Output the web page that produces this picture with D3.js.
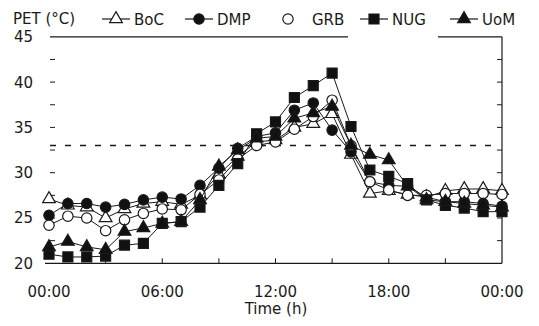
<!DOCTYPE html>
<html>
<head>
<meta charset="utf-8">
<script src="https://cdn.jsdelivr.net/npm/d3@7"></script>
<style>
    body { margin: 0; background: #fff; }
    svg text { font-family: "DejaVu Sans", sans-serif; font-size: 15px; fill: #1a1a1a; }
</style>
</head>
<body>
<svg class="chart"></svg>
<script>
var hours = d3.range(0, 25);
var xTickHours = [0, 6, 12, 18, 24];
var xTickLabels = ["00:00", "06:00", "12:00", "18:00", "00:00"];
var yTickValues = [20, 25, 30, 35, 40, 45];
var threshold = 33;

var boc = [27.1, 26.4, 26.2, 25.0, 26.0, 26.6, 26.8, 26.5, 27.5, 29.8, 31.8, 33.4, 33.6, 35.0, 35.4, 36.5, 32.0, 27.7, 28.0, 27.6, 27.3, 28.0, 28.2, 28.2, 28.0];
var dmp = [25.3, 26.6, 26.6, 26.2, 26.5, 27.0, 27.3, 27.1, 28.6, 30.5, 32.7, 34.0, 34.4, 36.9, 37.7, 34.7, 32.3, 29.0, 28.6, 28.5, 27.3, 26.8, 26.8, 26.6, 26.3];
var grb = [24.2, 25.2, 25.0, 23.6, 24.8, 25.5, 26.0, 25.9, 27.6, 29.2, 31.5, 33.0, 33.4, 34.8, 36.2, 38.0, 33.0, 29.0, 28.1, 27.5, 27.5, 27.7, 27.7, 27.7, 27.6];
var nug = [21.0, 20.7, 20.7, 20.8, 22.0, 22.2, 24.4, 24.6, 26.2, 28.6, 31.0, 34.3, 35.6, 38.3, 39.6, 41.0, 35.1, 30.3, 29.6, 28.8, 27.0, 26.4, 26.1, 25.7, 25.7];
var uom = [21.8, 22.4, 21.8, 21.5, 23.5, 23.9, 24.4, 24.6, 27.0, 30.7, 32.5, 33.8, 34.0, 36.0, 36.6, 37.3, 33.0, 32.0, 31.4, 28.5, 27.0, 26.8, 26.6, 26.4, 26.2];

var series = [
    {name: "BoC", values: boc, shape: d3.symbolTriangle, fill: "#fff", legendLine: true},
    {name: "DMP", values: dmp, shape: d3.symbolCircle, fill: "#111", legendLine: true},
    {name: "GRB", values: grb, shape: d3.symbolCircle, fill: "#fff", legendLine: false},
    {name: "NUG", values: nug, shape: d3.symbolSquare, fill: "#111", legendLine: true},
    {name: "UoM", values: uom, shape: d3.symbolTriangle, fill: "#111", legendLine: true}
];

var width = 539, height = 326;
var svg = d3.select(".chart").attr("width", width).attr("height", height);

var x = d3.scaleLinear().domain([0, 24]).range([49, 502]);
var y = d3.scaleLinear().domain([20, 45]).range([263.3, 36.8]);

var ink = "#1a1a1a";

// frame: bottom, right, top (top line broken as in the print)
svg.append("line").attr("x1", 45).attr("x2", x(24)).attr("y1", y(20)).attr("y2", y(20))
    .attr("stroke", ink).attr("stroke-width", 1.2);
svg.append("line").attr("x1", x(24)).attr("x2", x(24)).attr("y1", y(45)).attr("y2", y(20))
    .attr("stroke", ink).attr("stroke-width", 1.2);
svg.append("line").attr("x1", 50).attr("x2", 348).attr("y1", y(45)).attr("y2", y(45))
    .attr("stroke", ink).attr("stroke-width", 1.2);
svg.append("line").attr("x1", 438).attr("x2", x(24)).attr("y1", y(45)).attr("y2", y(45))
    .attr("stroke", ink).attr("stroke-width", 1.2);

// left ticks (no axis line), right ticks inward
var minorY = d3.range(22.5, 45, 2.5);
svg.selectAll(".ltick").data(minorY).enter().append("line")
    .attr("x1", 50).attr("x2", 55)
    .attr("y1", function(d) { return y(d); }).attr("y2", function(d) { return y(d); })
    .attr("stroke", ink);
svg.selectAll(".rtick").data(minorY).enter().append("line")
    .attr("x1", x(24) - 5).attr("x2", x(24))
    .attr("y1", function(d) { return y(d); }).attr("y2", function(d) { return y(d); })
    .attr("stroke", ink);
svg.selectAll(".btick").data(d3.range(3, 24, 3)).enter().append("line")
    .attr("x1", function(d) { return x(d); }).attr("x2", function(d) { return x(d); })
    .attr("y1", y(20) - 5).attr("y2", y(20))
    .attr("stroke", ink);

svg.selectAll(".ylab").data(yTickValues).enter().append("text")
    .attr("x", 33).attr("y", function(d) { return y(d); })
    .attr("dy", "0.36em").attr("text-anchor", "end")
    .text(function(d) { return d; });
svg.selectAll(".xlab").data(xTickHours).enter().append("text")
    .attr("x", function(d) { return x(d); }).attr("y", 297)
    .attr("text-anchor", "middle")
    .text(function(d, i) { return xTickLabels[i]; });
svg.append("text").attr("x", 276).attr("y", 314).attr("text-anchor", "middle").text("Time (h)");

// threshold line
svg.append("line").attr("x1", 50).attr("x2", x(24) - 2)
    .attr("y1", y(threshold)).attr("y2", y(threshold))
    .attr("stroke", ink).attr("stroke-width", 1.5).attr("stroke-dasharray", "6,9");

var line = d3.line()
    .x(function(d, i) { return x(hours[i]); })
    .y(function(d) { return y(d); });

function symbolFor(s) {
    var size = s.shape === d3.symbolSquare ? 100 : (s.shape === d3.symbolCircle ? 85 : 70);
    return d3.symbol().type(s.shape).size(size);
}

series.forEach(function(s) {
    var g = svg.append("g").attr("class", "series " + s.name);
    g.append("path").datum(s.values)
        .attr("d", line).attr("fill", "none").attr("stroke", ink).attr("stroke-width", 1);
    g.selectAll("path.pt").data(s.values).enter().append("path")
        .attr("class", "pt")
        .attr("d", symbolFor(s))
        .attr("transform", function(d, i) { return "translate(" + x(hours[i]) + "," + y(d) + ")"; })
        .attr("fill", s.fill).attr("stroke", ink).attr("stroke-width", 1.2);
});

// legend
svg.append("text").attr("x", 13).attr("y", 24).text("PET (°C)");
var legendX = [102, 185, 274, 360, 450];
series.forEach(function(s, i) {
    var lx = legendX[i];
    var g = svg.append("g").attr("transform", "translate(" + lx + ",19)");
    if (s.legendLine) {
        g.append("line").attr("x1", 0).attr("x2", 28).attr("y1", 0).attr("y2", 0)
            .attr("stroke", ink).attr("stroke-width", 1.2);
    }
    g.append("path").attr("d", symbolFor(s)).attr("transform", "translate(14,0)")
        .attr("fill", s.fill).attr("stroke", ink).attr("stroke-width", 1.2);
    g.append("text").attr("x", s.legendLine ? 32 : 38).attr("y", 5.5).text(s.name);
});
</script>
</body>
</body>
</html>
